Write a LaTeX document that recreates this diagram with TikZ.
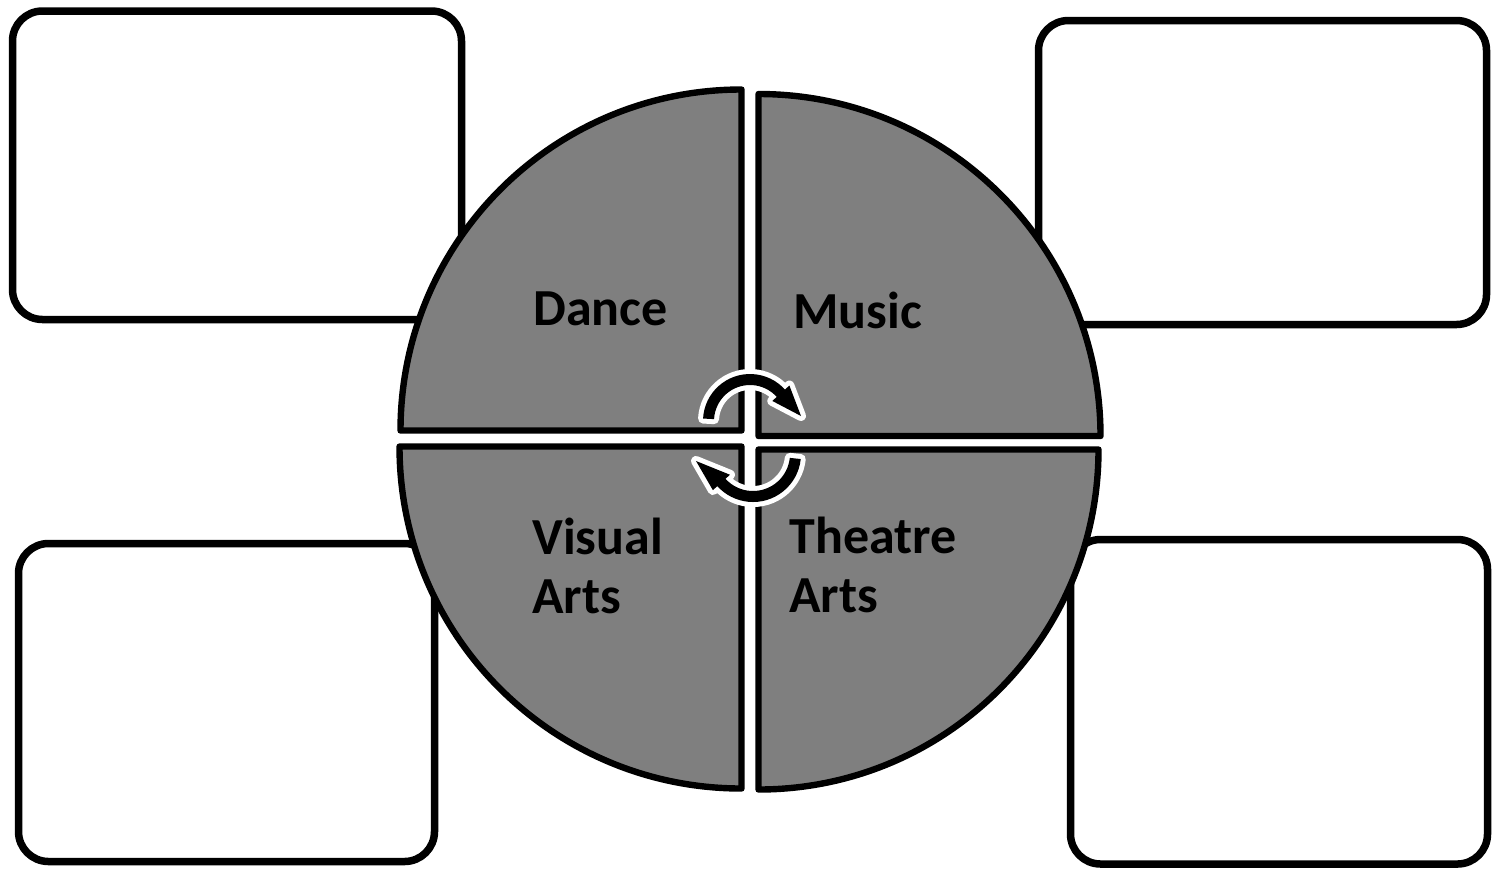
\documentclass[tikz,border=0pt]{standalone}
\usepackage{fontspec}
\setmainfont{Carlito}
\usetikzlibrary{calc}
\begin{document}
\begin{tikzpicture}[x=0.5pt,y=-0.5pt,
  infobox/.style={draw=black,line width=3.75pt,rounded corners=15pt,fill=white},
  quad/.style={draw=black,fill=gray50,line width=3.2pt,line join=round},
  label/.style={font=\fontsize{26}{29.5}\selectfont\bfseries,text=black,inner sep=0pt,anchor=base west,align=left},
  cyc/.style={fill=black,preaction={draw=white,line width=5pt,line join=round}}]
\definecolor{gray50}{HTML}{7F7F7F}
\useasboundingbox (0,0) rectangle (1492,869);
% boxes
\draw[infobox] (12.5,11) rectangle (461.5,319.5);
\draw[infobox] (1038.5,20.5) rectangle (1486.5,324.5);
\draw[infobox] (18.5,543.5) rectangle (434.5,861.5);
\draw[infobox] (1070.5,539.5) rectangle (1487.5,864);
% quadrants
\draw[quad] (741.5,430.5) -- ++(-341,0) arc[start angle=180,end angle=270,radius=341] -- cycle;
\draw[quad] (758.5,436) -- ++(0,-342) arc[start angle=270,end angle=360,radius=342] -- cycle;
\draw[quad] (741.5,446.5) -- ++(-342,0) arc[start angle=180,end angle=90,radius=342] -- cycle;
\draw[quad] (758.5,449.5) -- ++(340,0) arc[start angle=0,end angle=90,radius=340] -- cycle;
% labels
\node[label] (dance) at (533,325) {Dance};
\node[label] (music) at (793,328) {Music};
\node[label] (visual) at (532,613) {Visual\\Arts};
\node[label] (theatre) at (789,612) {Theatre\\Arts};
% cycle arrows
\coordinate (ca) at (750,421);
\coordinate (cb) at (753,454);
\coordinate (tipa) at (801,416);
\coordinate (tipb) at (696,461);
\path[cyc] ($(ca)+(183:47)$) arc[start angle=183,end angle=318,radius=47]
  -- ($(ca)+(318:53)$) -- (tipa) -- ($(ca)+(318:30)$) -- ($(ca)+(318:36)$)
  arc[start angle=318,end angle=183,radius=36] -- cycle;
\path[cyc] ($(cb)+(6:48)$) arc[start angle=6,end angle=138,radius=48]
  -- ($(cb)+(138:54)$) -- (tipb) -- ($(cb)+(138:31)$) -- ($(cb)+(138:37)$)
  arc[start angle=138,end angle=6,radius=37] -- cycle;
\end{tikzpicture}
\end{document}
